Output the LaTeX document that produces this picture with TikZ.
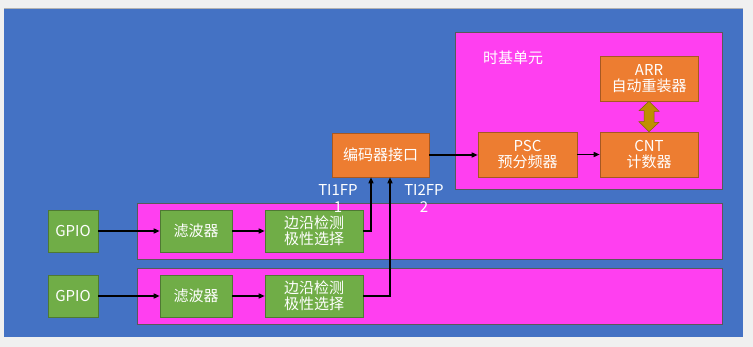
\documentclass[tikz,border=0pt]{standalone}
\usepackage{fontspec}
\setmainfont{Noto Sans CJK SC}
\usetikzlibrary{arrows.meta}
\definecolor{bgblue}{HTML}{4472C4}
\definecolor{pinkc}{HTML}{FF3FF0}
\definecolor{orangec}{HTML}{ED7D31}
\definecolor{greenc}{HTML}{70AD47}
\definecolor{goldc}{HTML}{BF9000}
\tikzset{
  panel/.style={draw=gray!70!black, line width=0.6pt, fill=pinkc},
  gbox/.style={draw=greenc!70!black, line width=0.6pt, fill=greenc, text=white, align=center, inner sep=0pt, font=\fontsize{15}{16.5}\selectfont},
  obox/.style={draw=orangec!70!black, line width=0.6pt, fill=orangec, text=white, align=center, inner sep=0pt, font=\fontsize{15}{16.5}\selectfont},
  conn/.style={line width=1.4pt, -{Triangle[length=6pt,width=5pt]}},
  lbl/.style={text=white, align=center, inner sep=0pt, font=\fontsize{15}{17}\selectfont},
}
\begin{document}
\begin{tikzpicture}[x=1pt,y=-1pt]
\useasboundingbox[fill={rgb,255:red,240;green,240;blue,240}] (0,0) rectangle (753,347);
\fill[bgblue] (4,8) rectangle (743,337);
\draw[gray!60, line width=0.6pt] (4,8) -- (743,8);
% panels
\draw[panel] (455,32) rectangle (722,189);
\draw[panel] (137,203) rectangle (722,259);
\draw[panel] (137,268) rectangle (722,324);
\node[lbl] (tb) at (513,58) {时基单元};
% row 1
\node[gbox, minimum width=50pt, minimum height=42pt] (g1) at (73,231) {GPIO};
\node[gbox, minimum width=72pt, minimum height=42pt] (f1) at (196,231) {滤波器};
\node[gbox, minimum width=98pt, minimum height=42pt] (e1) at (314,231) {边沿检测\\极性选择};
% row 2
\node[gbox, minimum width=50pt, minimum height=42pt] (g2) at (73,296) {GPIO};
\node[gbox, minimum width=72pt, minimum height=42pt] (f2) at (196,296) {滤波器};
\node[gbox, minimum width=98pt, minimum height=42pt] (e2) at (314,296) {边沿检测\\极性选择};
% encoder and time base
\node[obox, minimum width=97pt, minimum height=44pt] (enc) at (380.5,155) {编码器接口};
\node[obox, minimum width=99pt, minimum height=45pt] (psc) at (527.5,154.5) {PSC\\预分频器};
\node[obox, minimum width=98pt, minimum height=45pt] (cnt) at (649,154.5) {CNT\\计数器};
\node[obox, minimum width=98pt, minimum height=45pt] (arr) at (649,78.5) {ARR\\自动重装器};
% labels
\node[lbl] (l1) at (338,199) {TI1FP\\1};
\node[lbl] (l2) at (424,199) {TI2FP\\2};
% connectors
\draw[conn] (g1) -- (f1);
\draw[conn] (f1) -- (e1);
\draw[conn] (g2) -- (f2);
\draw[conn] (f2) -- (e2);
\coordinate (c1) at (371,231);
\coordinate (c2) at (390,296);
\draw[conn] (e1.east) -- (c1) -- (c1 |- enc.south);
\draw[conn] (e2.east) -- (c2) -- (c2 |- enc.south);
\draw[conn] (enc.east) -- (enc.east -| psc.west);
\draw[conn] (psc) -- (cnt);
% double block arrow
\draw[fill=goldc, draw=goldc!70!black, line width=0.5pt]
  (arr.south) -- ++(10,10) -- ++(-5,0) -- ++(0,11) -- ++(5,0) -- (cnt.north)
  -- ++(-10,-10) -- ++(5,0) -- ++(0,-11) -- ++(-5,0) -- cycle;
\end{tikzpicture}
\end{document}
